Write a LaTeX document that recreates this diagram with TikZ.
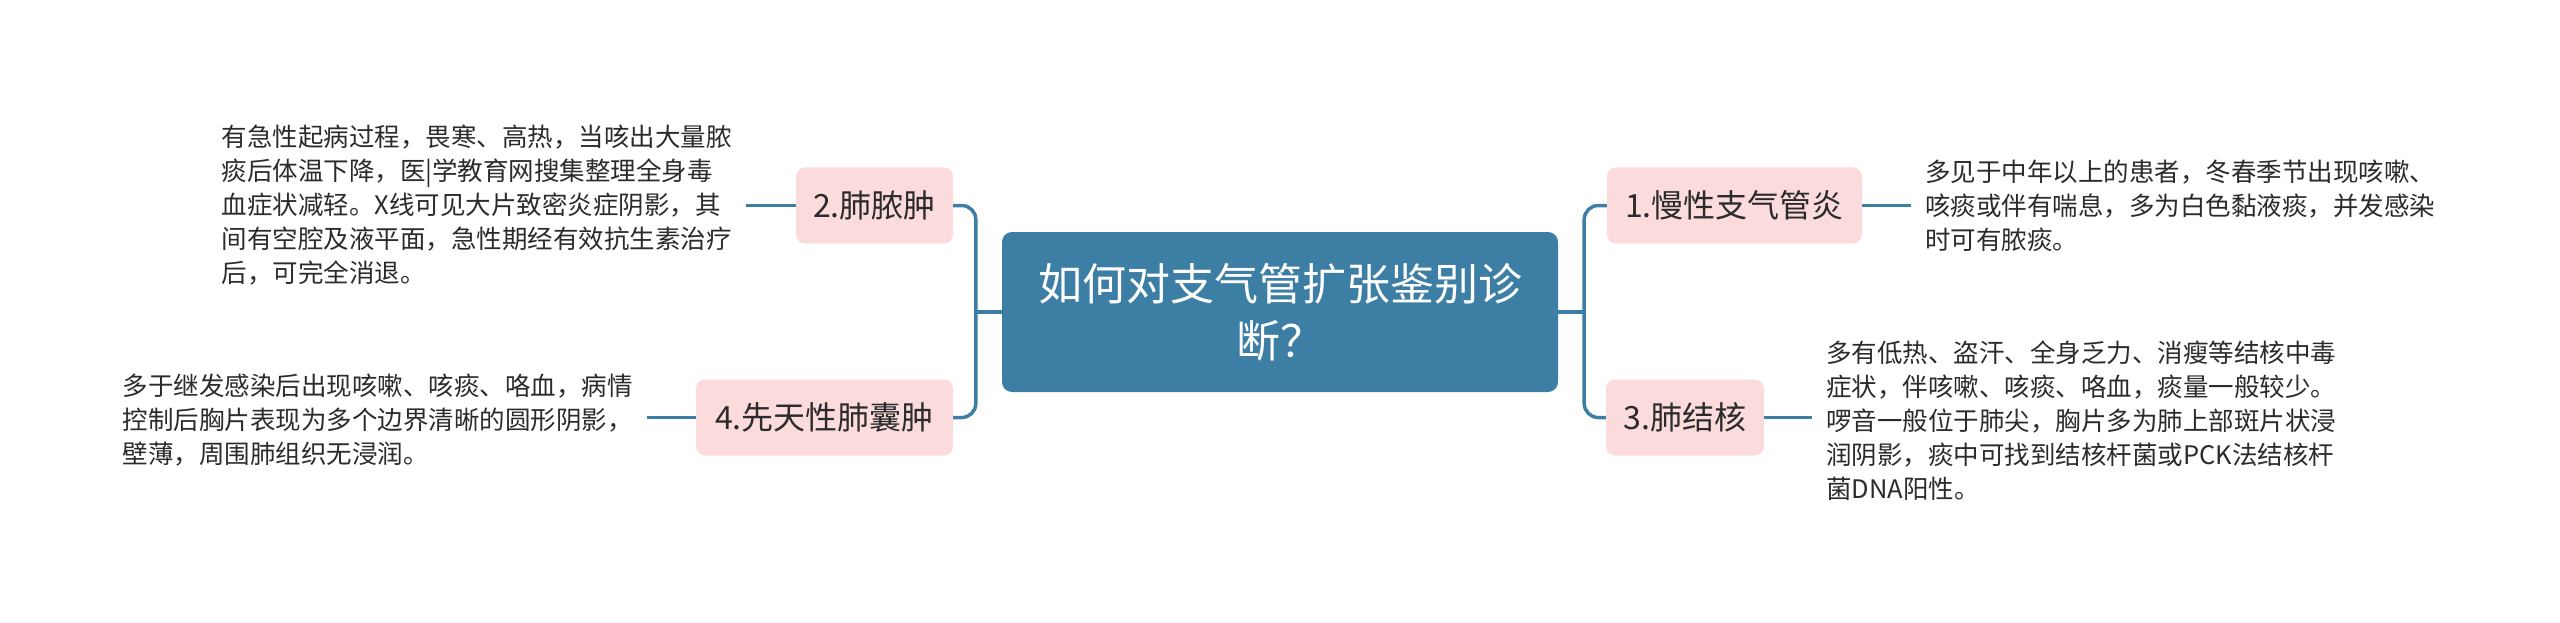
\documentclass[tikz,border=0pt]{standalone}
\usepackage{fontspec}
\setmainfont{Noto Sans CJK SC}
\definecolor{cblue}{HTML}{3D7EA5}
\definecolor{cpink}{HTML}{FBDBDB}
\definecolor{ctext}{HTML}{2B2B2B}
\begin{document}
\begin{tikzpicture}[x=1pt,y=-1pt,
  conn/.style={draw=cblue, line width=3.5pt},
  root/.style={fill=cblue, rounded corners=10pt, text=white, minimum width=556pt, minimum height=160pt, align=center, font=\fontsize{44}{57}\selectfont, inner sep=0pt},
  topic/.style={fill=cpink, rounded corners=9pt, text=ctext, minimum height=76pt, inner sep=0pt, font=\fontsize{32}{38}\selectfont},
  body/.style={text=ctext, align=left, inner xsep=14pt, inner ysep=0pt, font=\fontsize{25.5}{34}\selectfont}]
\useasboundingbox (0,0) rectangle (2560,623);

\node[root] (c) at (1280,312) {如何对支气管扩张鉴别诊\\断？};

\node[topic, minimum width=255pt] (n1) at (1734.5,205.5) {1.慢性支气管炎};
\node[topic, minimum width=158pt] (n3) at (1685,417.5) {3.肺结核};
\node[topic, minimum width=157pt] (n2) at (874.5,205.5) {2.肺脓肿};
\node[topic, minimum width=257pt] (n4) at (824.5,417.5) {4.先天性肺囊肿};

\node[body, anchor=west] (t1) at ([xshift=49pt]n1.east) {多见于中年以上的患者，冬春季节出现咳嗽、\\咳痰或伴有喘息，多为白色黏液痰，并发感染\\时可有脓痰。};
\node[body, anchor=west] (t3) at ([xshift=48pt,yshift=-3pt]n3.east) {多有低热、盗汗、全身乏力、消瘦等结核中毒\\症状，伴咳嗽、咳痰、咯血，痰量一般较少。\\啰音一般位于肺尖，胸片多为肺上部斑片状浸\\润阴影，痰中可找到结核杆菌或PCK法结核杆\\菌DNA阳性。};
\node[body, anchor=east] (t2) at ([xshift=-50pt]n2.west) {有急性起病过程，畏寒、高热，当咳出大量脓\\痰后体温下降，医|学教育网搜集整理全身毒\\血症状减轻。X线可见大片致密炎症阴影，其\\间有空腔及液平面，急性期经有效抗生素治疗\\后，可完全消退。};
\node[body, anchor=east] (t4) at ([xshift=-49pt,yshift=-3pt]n4.west) {多于继发感染后出现咳嗽、咳痰、咯血，病情\\控制后胸片表现为多个边界清晰的圆形阴影，\\壁薄，周围肺组织无浸润。};

\coordinate (jr) at ([xshift=26pt]c.east);
\coordinate (jl) at ([xshift=-26pt]c.west);
\draw[conn] (c.east) -- (jr);
\draw[conn, rounded corners=14pt] (n1.west) -| (jr) |- (n3.west);
\draw[conn] (c.west) -- (jl);
\draw[conn, rounded corners=14pt] (n2.east) -| (jl) |- (n4.east);

\draw[conn] (n1.east) -- (n1.east -| t1.west);
\draw[conn] (n3.east) -- (n3.east -| t3.west);
\draw[conn] (n2.west) -- (n2.west -| t2.east);
\draw[conn] (n4.west) -- (n4.west -| t4.east);
\end{tikzpicture}
\end{document}
